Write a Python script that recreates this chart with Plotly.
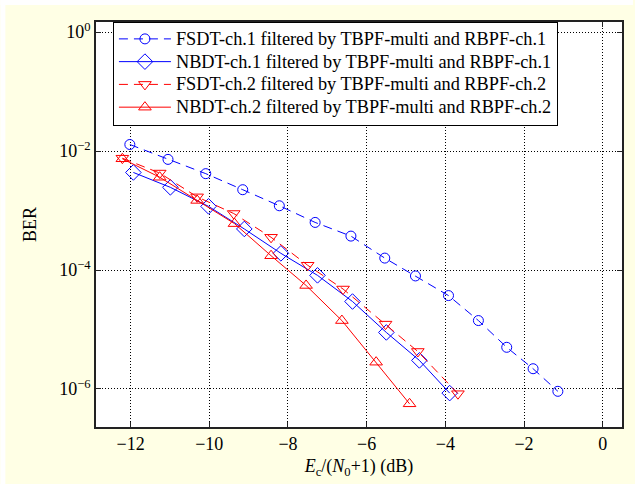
import plotly.graph_objects as go

# ---- data ----
fsdt1_x = [-12.02, -11.05, -10.09, -9.15, -8.22, -7.31, -6.40, -5.54, -4.76, -3.92, -3.16, -2.44, -1.77, -1.14]
fsdt1_log = [-1.89, -2.14, -2.38, -2.65, -2.92, -3.20, -3.43, -3.80, -4.10, -4.43, -4.85, -5.30, -5.66, -6.04]

nbdt1_x = [-11.93, -10.99, -10.02, -9.11, -8.18, -7.25, -6.36, -5.50, -4.66, -3.89]
nbdt1_log = [-2.36, -2.61, -2.93, -3.31, -3.72, -4.09, -4.53, -5.05, -5.52, -6.07]

fsdt2_x = [-12.21, -11.26, -10.31, -9.38, -8.43, -7.50, -6.60, -5.52, -4.70, -3.68]
fsdt2_log = [-2.12, -2.37, -2.77, -3.05, -3.45, -3.92, -4.32, -4.91, -5.37, -6.08]

nbdt2_x = [-12.21, -11.26, -10.31, -9.36, -8.43, -7.54, -6.63, -5.76, -4.91]
nbdt2_log = [-2.13, -2.44, -2.83, -3.22, -3.76, -4.26, -4.85, -5.55, -6.25]

names = [
    "FSDT-ch.1 filtered by TBPF-multi and RBPF-ch.1",
    "NBDT-ch.1 filtered by TBPF-multi and RBPF-ch.1",
    "FSDT-ch.2 filtered by TBPF-multi and RBPF-ch.2",
    "NBDT-ch.2 filtered by TBPF-multi and RBPF-ch.2",
]

x_ticks = [-12, -10, -8, -6, -4, -2, 0]
y_tickvals = [1, 1e-2, 1e-4, 1e-6]
y_ticktext = ["10<sup>0</sup>", "10<sup>\u22122</sup>", "10<sup>\u22124</sup>", "10<sup>\u22126</sup>"]

x_title = "<i>E</i><sub>c</sub>/(<i>N</i><sub>0</sub>+1) (dB)"
y_title = "BER"

FONT = "Liberation Serif, Times New Roman, serif"
BLUE = "#0000FF"
RED = "#FF0000"

series = [
    (fsdt1_x, fsdt1_log, names[0], BLUE, "9px,6px", "circle-open", 10),
    (nbdt1_x, nbdt1_log, names[1], BLUE, "solid", "diamond-open", 12),
    (fsdt2_x, fsdt2_log, names[2], RED, "9px,6px", "triangle-down-open", 11),
    (nbdt2_x, nbdt2_log, names[3], RED, "solid", "triangle-up-open", 11),
]

fig = go.Figure()
for xs, logs, nm, col, dash, sym, sz in series:
    fig.add_trace(go.Scatter(
        x=xs, y=[10 ** v for v in logs],
        name='<span style="font-size:18.3px">' + nm + '</span>',
        mode="lines+markers",
        line=dict(color=col, width=1, dash=dash),
        marker=dict(symbol=sym, size=sz, color=col, line=dict(color=col, width=1)),
    ))

W, H = 635, 484
L, R, T, B = 96, 11, 22, 57
pw, ph = W - L - R, H - T - B

def px_x(p):
    return (p - L) / pw

def px_y(p):
    return (H - B - p) / ph

fig.update_layout(
    width=W, height=H,
    margin=dict(l=L, r=R, t=T, b=B, pad=0),
    paper_bgcolor="#FFFFE5",
    plot_bgcolor="white",
    font=dict(family=FONT, size=18, color="black"),
    showlegend=True,
    legend=dict(
        x=px_x(113), y=px_y(21.5), xanchor="left", yanchor="top",
        bgcolor="white", bordercolor="black", borderwidth=1,
        font=dict(family=FONT, size=15.2, color="black"),
        itemwidth=52, tracegroupgap=0,
    ),
    xaxis=dict(
        range=[-12.88, 0.49], tickvals=x_ticks,
        ticks="inside", ticklen=5, tickcolor="#222", mirror="ticks",
        showline=True, linecolor="#222", linewidth=1.5,
        showgrid=True, gridcolor="black", gridwidth=1, griddash="1px,2px",
        zeroline=False,
        tickfont=dict(family=FONT, size=18),
        title=dict(text=x_title, font=dict(family=FONT, size=18), standoff=6),
    ),
    yaxis=dict(
        type="log", range=[-6.64, 0.17], tickvals=y_tickvals, ticktext=y_ticktext,
        ticks="inside", ticklen=5, tickcolor="#222", mirror="ticks",
        showline=True, linecolor="#222", linewidth=1.5,
        showgrid=True, gridcolor="black", gridwidth=1, griddash="1px,2px",
        zeroline=False,
        tickfont=dict(family=FONT, size=18),
        title=dict(text=y_title, font=dict(family=FONT, size=18), standoff=18),
    ),
    shapes=[
        dict(type="rect", xref="paper", yref="paper", x0=px_x(0), x1=px_x(W), y0=px_y(5), y1=px_y(0),
             fillcolor="white", line=dict(width=0), layer="below"),
        dict(type="rect", xref="paper", yref="paper", x0=px_x(0), x1=px_x(5), y0=px_y(H), y1=px_y(0),
             fillcolor="white", line=dict(width=0), layer="below"),
    ],
)

fig.write_html("out.html", config={"displayModeBar": False},
               post_script="document.body.style.margin='0';")
